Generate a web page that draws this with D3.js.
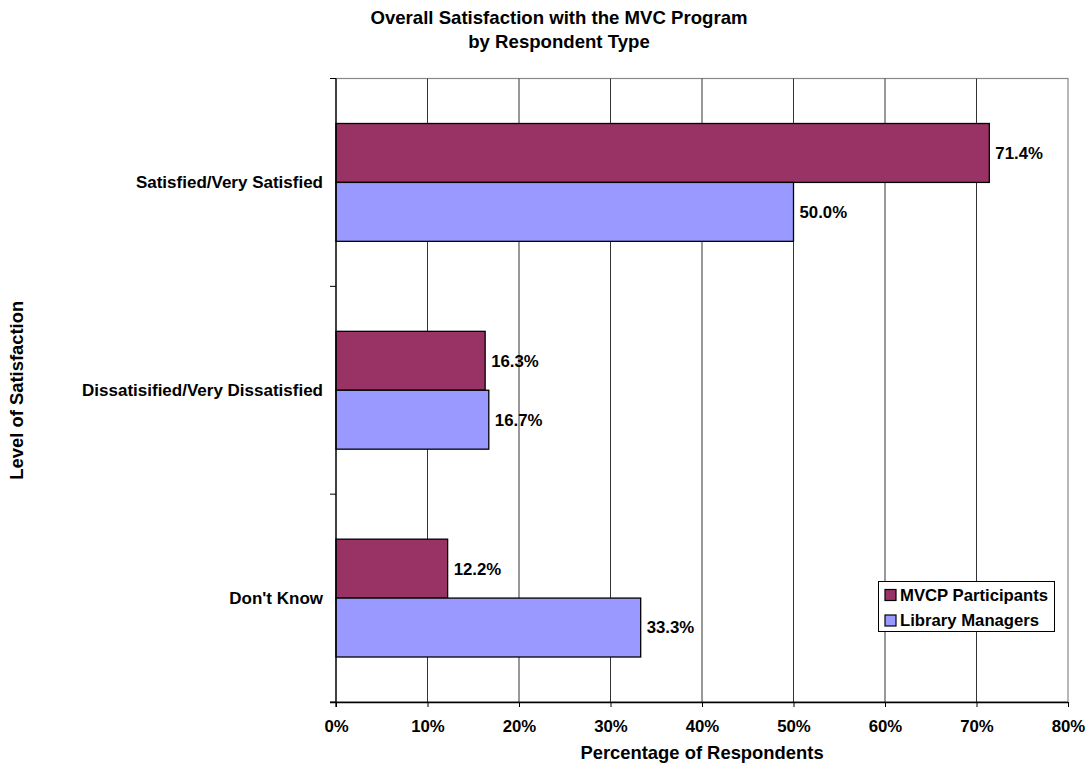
<!DOCTYPE html>
<html>
<head>
<meta charset="utf-8">
<script src="https://cdn.jsdelivr.net/npm/d3@7"></script>
<style>
  body { margin: 0; background: #fff; }
  svg { display: block; font-family: "Liberation Sans", Arial, sans-serif; font-weight: bold; }
</style>
</head>
<body>
<svg id="chart" width="1090" height="767"></svg>
<script>
const categories = ['Satisfied/Very Satisfied', 'Dissatisified/Very Dissatisfied', "Don't Know"];
const seriesNames = ['MVCP Participants', 'Library Managers'];
const mvcpValues = [71.4, 16.3, 12.2];
const managerValues = [50.0, 16.7, 33.3];
const xTicks = [0, 10, 20, 30, 40, 50, 60, 70, 80];
const colors = ['#993366', '#9999FF'];

const svg = d3.select('#chart');
const plotLeft = 336, plotRight = 1068, plotTop = 78.5, plotBottom = 702;

const x = d3.scaleLinear().domain([0, 80]).range([plotLeft, plotRight]);
const y = d3.scaleBand().domain(categories).range([plotTop, plotBottom]).paddingInner(0.433).paddingOuter(0.2165);
const inner = d3.scaleBand().domain(seriesNames).range([0, y.bandwidth()]);

// plot frame and gridlines
svg.append('rect').attr('x', plotLeft).attr('y', plotTop).attr('width', plotRight - plotLeft).attr('height', plotBottom - plotTop)
  .attr('fill', 'none').attr('stroke', '#888').attr('stroke-width', 1.2);
svg.append('g').selectAll('line').data(xTicks.slice(1, -1)).join('line')
  .attr('x1', (d) => x(d)).attr('x2', (d) => x(d)).attr('y1', plotTop).attr('y2', plotBottom)
  .attr('stroke', '#333').attr('stroke-width', 1);

// bars
const rows = categories.map((category, i) => [
  { category, series: seriesNames[0], value: mvcpValues[i] },
  { category, series: seriesNames[1], value: managerValues[i] },
]).flat();

svg.append('g').selectAll('rect').data(rows).join('rect')
  .attr('x', x(0))
  .attr('y', (d) => y(d.category) + inner(d.series))
  .attr('width', (d) => x(d.value) - x(0))
  .attr('height', inner.bandwidth())
  .attr('fill', (d) => colors[seriesNames.indexOf(d.series)])
  .attr('stroke', '#000').attr('stroke-width', 1.3);

svg.append('g').selectAll('text').data(rows).join('text')
  .attr('x', (d) => x(d.value) + 6)
  .attr('y', (d) => y(d.category) + inner(d.series) + inner.bandwidth() / 2)
  .attr('dy', '0.35em').attr('font-size', 16.8)
  .text((d) => `${d.value.toFixed(1)}%`);

// axes
const xAxis = svg.append('g').attr('transform', `translate(0,${plotBottom})`)
  .call(d3.axisBottom(x).tickValues(xTicks).tickFormat((d) => `${d}%`).tickSize(5).tickPadding(13).tickSizeOuter(0));
xAxis.select('.domain').attr('stroke', '#000').attr('stroke-width', 1.3).attr('d', `M${plotLeft - 6},0.5H${plotRight}`);
xAxis.selectAll('.tick line').attr('stroke', '#000');
xAxis.selectAll('text').attr('font-size', 16.8).attr('font-family', 'Liberation Sans, Arial, sans-serif').attr('font-weight', 'bold').attr('fill', '#000');

const yBounds = [plotTop, plotTop + y.step(), plotTop + y.step() * 2, plotBottom];
const yAxis = svg.append('g');
yAxis.append('line').attr('x1', plotLeft).attr('x2', plotLeft).attr('y1', plotTop).attr('y2', plotBottom + 5).attr('stroke', '#000').attr('stroke-width', 1.3);
yAxis.selectAll('line.tick').data(yBounds).join('line').attr('class', 'tick')
  .attr('x1', plotLeft - 6).attr('x2', plotLeft).attr('y1', (d) => d).attr('y2', (d) => d).attr('stroke', '#000');
yAxis.selectAll('text').data(categories).join('text')
  .attr('x', plotLeft - 13).attr('y', (d) => y(d) + y.bandwidth() / 2).attr('dy', '0.35em')
  .attr('text-anchor', 'end').attr('font-size', 17).text((d) => d);

// titles
svg.append('text').attr('x', 559).attr('y', 24).attr('text-anchor', 'middle').attr('font-size', 18.6)
  .text('Overall Satisfaction with the MVC Program');
svg.append('text').attr('x', 559).attr('y', 48).attr('text-anchor', 'middle').attr('font-size', 18.6)
  .text('by Respondent Type');
svg.append('text').attr('x', (plotLeft + plotRight) / 2).attr('y', 759).attr('text-anchor', 'middle').attr('font-size', 18.4)
  .text('Percentage of Respondents');
svg.append('text').attr('transform', `translate(23,${(plotTop + plotBottom) / 2}) rotate(-90)`).attr('text-anchor', 'middle').attr('font-size', 18.4)
  .text('Level of Satisfaction');

// legend
const legend = svg.append('g').attr('transform', 'translate(878.5,581.5)');
legend.append('rect').attr('width', 176).attr('height', 50).attr('fill', '#fff').attr('stroke', '#000');
const item = legend.selectAll('g').data(seriesNames).join('g').attr('transform', (d, i) => `translate(6.5,${13.5 + i * 25.5})`);
item.append('rect').attr('x', 0).attr('y', -5.5).attr('width', 11).attr('height', 11)
  .attr('fill', (d, i) => colors[i]).attr('stroke', '#000').attr('stroke-width', 1.2);
item.append('text').attr('x', 15).attr('dy', '0.35em').attr('font-size', 16.7).text((d) => d);
</script>
</body>
</html>
